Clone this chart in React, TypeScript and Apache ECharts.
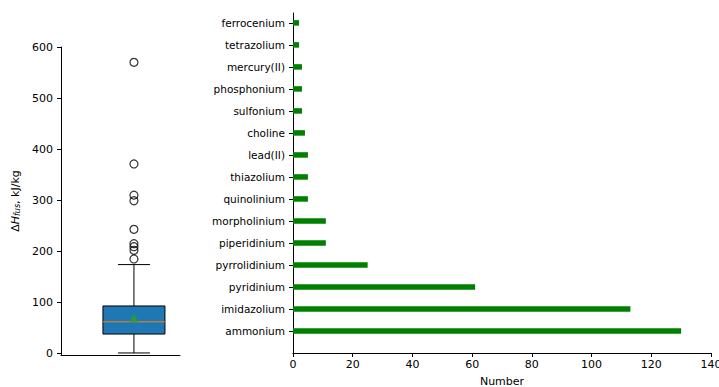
import React, { useEffect, useRef } from "react";
import * as echarts from "echarts";

// Cation families and how many compounds fall in each
const cations = [
  "ammonium",
  "imidazolium",
  "pyridinium",
  "pyrrolidinium",
  "piperidinium",
  "morpholinium",
  "quinolinium",
  "thiazolium",
  "lead(II)",
  "choline",
  "sulfonium",
  "phosphonium",
  "mercury(II)",
  "tetrazolium",
  "ferrocenium",
];
const counts = [130, 113, 61, 25, 11, 11, 5, 5, 5, 4, 3, 3, 3, 2, 2];
const countTicks = [0, 20, 40, 60, 80, 100, 120, 140];

// Enthalpy of fusion distribution: lower whisker, Q1, median, Q3, upper whisker
const boxStats = [1, 38, 62, 93, 174];
const meanValue = 70;
const outliers = [185, 202, 209, 215, 243, 299, 310, 371, 570];
const enthalpyTicks = [0, 100, 200, 300, 400, 500, 600];

const FONT = "DejaVu Sans";
const BOX_X = 0.613;

export default function App() {
  const ref = useRef<HTMLDivElement>(null);

  useEffect(() => {
    if (!ref.current) return;
    const chart = echarts.init(ref.current, null, { renderer: "svg" });

    const catIdx = cations.map((_, i) => i);

    const option: any = {
      animation: false,
      backgroundColor: "#ffffff",
      textStyle: { fontFamily: FONT },
      grid: [
        { left: 61, width: 119, top: 47, height: 308, outerBoundsMode: "none", containLabel: false },
        { left: 293, width: 418, top: 13, height: 340, outerBoundsMode: "none", containLabel: false },
      ],
      xAxis: [
        {
          gridIndex: 0,
          type: "value",
          min: 0,
          max: 1,
          axisLine: { show: true, onZero: false, lineStyle: { color: "#000", width: 1 } },
          axisTick: { show: false },
          axisLabel: { show: false },
          splitLine: { show: false },
        },
        {
          gridIndex: 1,
          type: "value",
          min: 0,
          max: 140,
          interval: 20,
          name: "Number",
          nameLocation: "middle",
          nameGap: 23,
          nameTextStyle: { fontFamily: FONT, fontSize: 11, color: "#000" },
          axisLine: { show: true, onZero: false, lineStyle: { color: "#000", width: 1 } },
          axisTick: { show: true, inside: false, length: 4, lineStyle: { color: "#000" }, customValues: countTicks },
          axisLabel: {
            fontFamily: FONT,
            fontSize: 11,
            color: "#000",
            margin: 6,
            hideOverlap: false,
            customValues: countTicks,
          },
          splitLine: { show: false },
        },
      ],
      yAxis: [
        {
          gridIndex: 0,
          type: "value",
          min: -3,
          max: 600,
          name: "{d|Δ}{h|H}{s|fus}{d|, kJ/kg}",
          nameLocation: "middle",
          nameRotate: 90,
          nameGap: 40,
          nameTextStyle: {
            color: "#000",
            rich: {
              d: { fontFamily: FONT, fontSize: 11, color: "#000" },
              h: { fontFamily: FONT, fontSize: 11, fontStyle: "italic", color: "#000" },
              s: {
                fontFamily: FONT,
                fontSize: 8,
                fontStyle: "italic",
                color: "#000",
                verticalAlign: "bottom",
                padding: [4, 0, 0, 0],
              },
            },
          },
          axisLine: { show: true, onZero: false, lineStyle: { color: "#000", width: 1 } },
          axisTick: { show: true, inside: false, length: 4, lineStyle: { color: "#000" }, customValues: enthalpyTicks },
          axisLabel: {
            fontFamily: FONT,
            fontSize: 11,
            color: "#000",
            margin: 8,
            customValues: enthalpyTicks,
          },
          splitLine: { show: false },
        },
        {
          gridIndex: 1,
          type: "value",
          min: -1,
          max: 14.45,
          axisLine: { show: true, onZero: false, lineStyle: { color: "#000", width: 1 } },
          axisTick: { show: true, inside: false, length: 4, lineStyle: { color: "#000" }, customValues: catIdx },
          axisLabel: {
            fontFamily: FONT,
            fontSize: 10.5,
            color: "#000",
            margin: 8,
            customValues: catIdx,
            formatter: (v: number) => cations[Math.round(v)] ?? "",
          },
          splitLine: { show: false },
        },
      ],
      series: [
        {
          type: "custom",
          xAxisIndex: 0,
          yAxisIndex: 0,
          data: [[BOX_X, ...boxStats]],
          encode: { x: 0, y: [1, 2, 3, 4, 5] },
          renderItem: (_params: any, api: any) => {
            const x = api.value(0);
            const lo = api.coord([x, api.value(1)]);
            const q1 = api.coord([x, api.value(2)]);
            const med = api.coord([x, api.value(3)]);
            const q3 = api.coord([x, api.value(4)]);
            const hi = api.coord([x, api.value(5)]);
            const halfBox = 31;
            const halfCap = 16;
            const cx = lo[0];
            const line = { stroke: "#000", lineWidth: 1 };
            return {
              type: "group",
              children: [
                { type: "line", shape: { x1: cx, y1: q1[1], x2: cx, y2: lo[1] }, style: line },
                { type: "line", shape: { x1: cx, y1: q3[1], x2: cx, y2: hi[1] }, style: line },
                { type: "line", shape: { x1: cx - halfCap, y1: lo[1], x2: cx + halfCap, y2: lo[1] }, style: line },
                { type: "line", shape: { x1: cx - halfCap, y1: hi[1], x2: cx + halfCap, y2: hi[1] }, style: line },
                {
                  type: "rect",
                  shape: { x: cx - halfBox, y: q3[1], width: halfBox * 2, height: q1[1] - q3[1] },
                  style: { fill: "#1f77b4", stroke: "#000", lineWidth: 1 },
                },
                {
                  type: "line",
                  shape: { x1: cx - halfBox, y1: med[1], x2: cx + halfBox, y2: med[1] },
                  style: { stroke: "#ff7f0e", lineWidth: 1 },
                },
              ],
            };
          },
          z: 2,
        },
        {
          type: "scatter",
          xAxisIndex: 0,
          yAxisIndex: 0,
          data: outliers.map((v) => [BOX_X, v]),
          symbol: "circle",
          symbolSize: 8,
          itemStyle: { color: "rgba(0,0,0,0)", borderColor: "#000", borderWidth: 1.2 },
          z: 3,
        },
        {
          type: "scatter",
          xAxisIndex: 0,
          yAxisIndex: 0,
          data: [[BOX_X, meanValue]],
          symbol: "triangle",
          symbolSize: 9,
          itemStyle: { color: "#2ca02c" },
          z: 4,
        },
        {
          type: "custom",
          xAxisIndex: 1,
          yAxisIndex: 1,
          data: counts.map((c, i) => [c, i]),
          encode: { x: 0, y: 1 },
          renderItem: (_params: any, api: any) => {
            const val = api.value(0);
            const idx = api.value(1);
            const start = api.coord([0, idx]);
            const end = api.coord([val, idx]);
            const h = api.size([0, 0.25])[1];
            return {
              type: "rect",
              shape: { x: start[0], y: start[1] - h / 2, width: end[0] - start[0], height: h },
              style: { fill: "#008000" },
            };
          },
          z: 2,
        },
      ],
    };

    chart.setOption(option);
    return () => chart.dispose();
  }, []);

  return (
    <div
      ref={ref}
      style={{ position: "fixed", left: 0, top: 0, width: 719, height: 387, background: "#fff" }}
    />
  );
}
